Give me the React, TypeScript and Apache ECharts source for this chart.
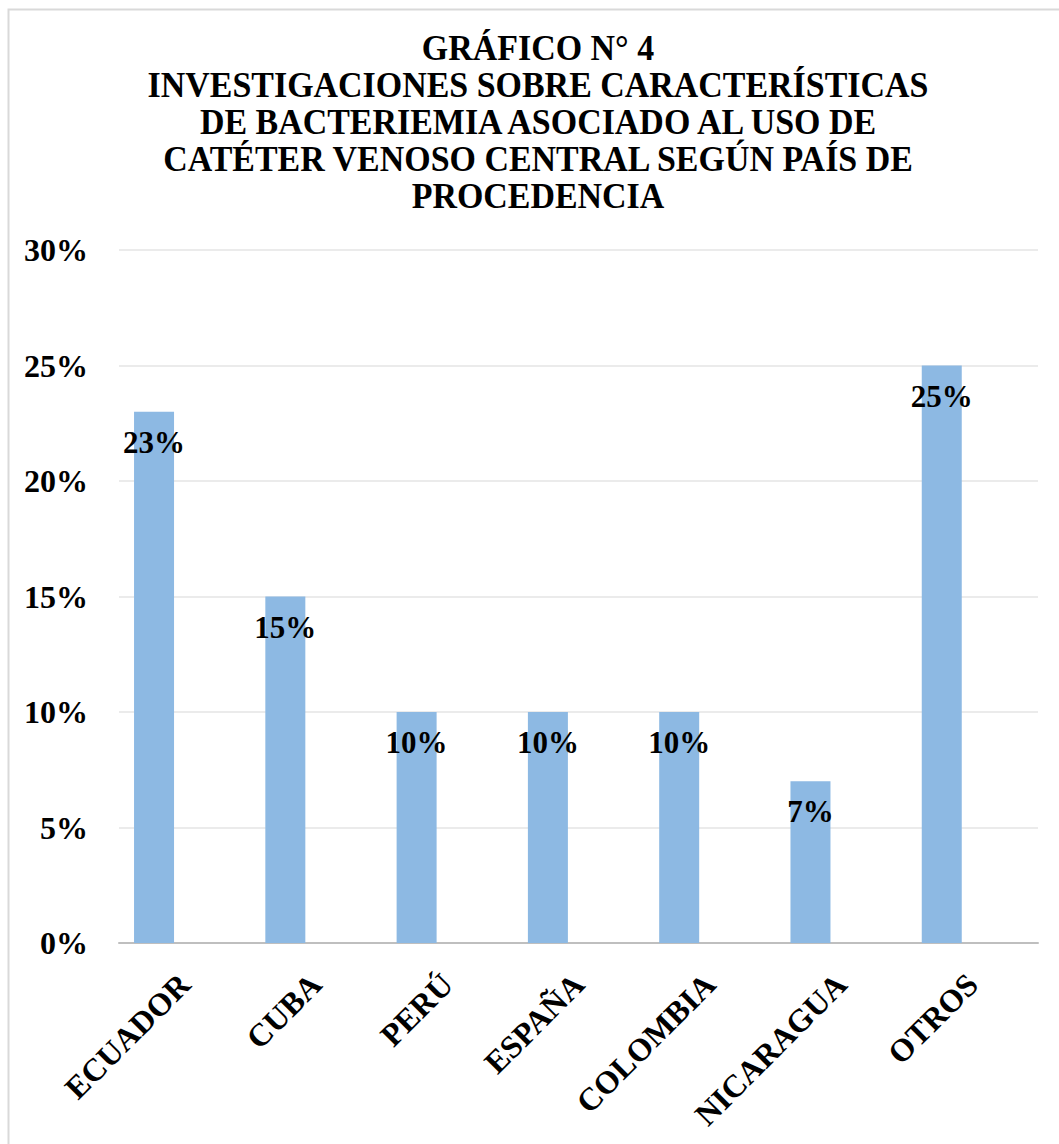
import React, { useEffect, useRef } from "react";
import * as echarts from "echarts";

const categories = ["ECUADOR", "CUBA", "PERÚ", "ESPAÑA", "COLOMBIA", "NICARAGUA", "OTROS"];
const values = [0.23, 0.15, 0.1, 0.1, 0.1, 0.07, 0.25];
const emptySeries = [null, null, null, null, null, null, null];
const titleLines = [
  "GRÁFICO N° 4",
  "INVESTIGACIONES SOBRE CARACTERÍSTICAS",
  "DE BACTERIEMIA ASOCIADO AL USO DE",
  "CATÉTER VENOSO CENTRAL SEGÚN PAÍS DE",
  "PROCEDENCIA",
];

const FONT = "'Liberation Serif', 'Times New Roman', serif";

export default function App() {
  const ref = useRef<HTMLDivElement>(null);
  useEffect(() => {
    if (!ref.current) return;
    const chart = echarts.init(ref.current, null, { renderer: "svg" });
    chart.setOption({
      animation: false,
      backgroundColor: "#ffffff",
      graphic: [
        {
          type: "rect",
          shape: { x: 8.5, y: 9.5, width: 1100, height: 1200 },
          style: { fill: "none", stroke: "#d9d9d9", lineWidth: 2 },
          silent: true,
        },
        {
          type: "text",
          x: 538,
          y: 122,
          scaleX: 0.97,
          style: {
            text: titleLines.join("\n"),
            font: `bold 35px ${FONT}`,
            fill: "#000000",
            align: "center",
            verticalAlign: "middle",
            lineHeight: 37,
          },
        },
      ],
      grid: { left: 119, right: 21, top: 250, bottom: 201, containLabel: false },
      xAxis: {
        type: "category",
        data: categories,
        axisLine: { show: true, lineStyle: { color: "#bfbfbf", width: 2 } },
        axisTick: { show: false },
        axisLabel: {
          rotate: 45,
          margin: 36,
          interval: 0,
          color: "#000000",
          fontFamily: FONT,
          fontWeight: "bold",
          fontSize: 32,
        },
      },
      yAxis: {
        type: "value",
        min: 0,
        max: 0.3,
        interval: 0.05,
        axisLine: { show: false },
        axisTick: { show: false },
        splitLine: { lineStyle: { color: "#ebebeb", width: 2 } },
        axisLabel: {
          margin: 31,
          color: "#000000",
          fontFamily: FONT,
          fontWeight: "bold",
          fontSize: 32,
          formatter: (v: number) => `${Math.round(v * 100)}%`,
        },
      },
      series: [
        {
          type: "bar",
          data: values,
          barWidth: 40,
          barGap: "53%",
          itemStyle: { color: "#8db9e3" },
          label: {
            show: true,
            position: "insideTop",
            distance: 15,
            color: "#000000",
            fontFamily: FONT,
            fontWeight: "bold",
            fontSize: 31,
            formatter: (p: any) => `${Math.round(p.value * 100)}%`,
          },
        },
        {
          type: "bar",
          data: emptySeries,
          barWidth: 40,
          itemStyle: { color: "#8db9e3" },
        },
      ],
    });
    return () => chart.dispose();
  }, []);
  return (
    <div
      ref={ref}
      style={{ position: "fixed", left: 0, top: 0, width: 1059, height: 1144, background: "#fff" }}
    />
  );
}
